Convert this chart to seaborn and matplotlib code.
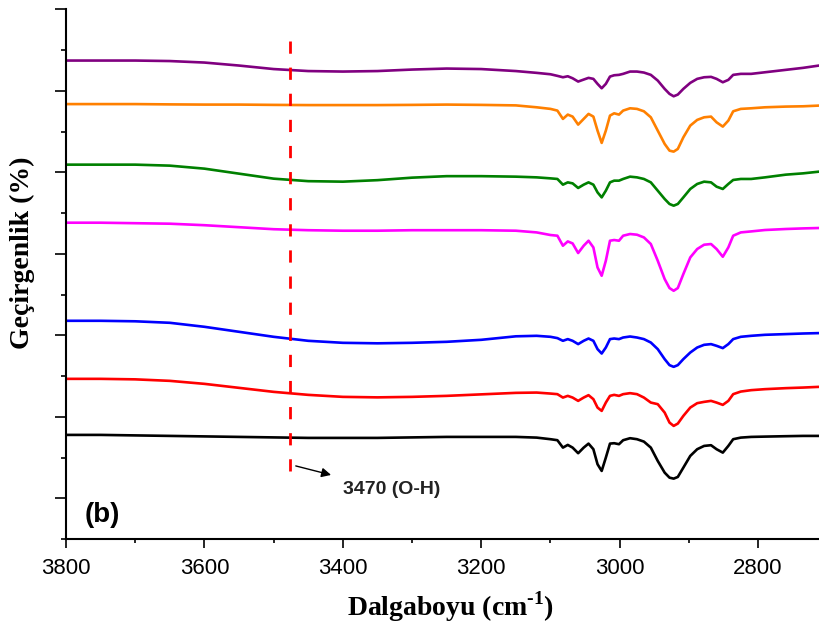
import numpy as np
import pandas as pd
import matplotlib
matplotlib.use("Agg")
import matplotlib.pyplot as plt
import seaborn as sns

# wavenumbers (cm-1)
wavenumber = [3800, 3750, 3700, 3650, 3600, 3550, 3500, 3450, 3400, 3350, 3300, 3250, 3200, 3150,
              3120, 3100, 3090, 3082, 3075, 3068, 3060, 3052, 3045, 3038, 3032, 3026, 3020, 3014,
              3008, 3001, 2995, 2985, 2975, 2965, 2955, 2945, 2935, 2928, 2922, 2916, 2908, 2898,
              2888, 2878, 2868, 2860, 2851, 2843, 2836, 2825, 2810, 2790, 2760, 2735, 2712]

# transmittance (arbitrary, vertically offset)
purple = [478, 478, 478, 477.5, 476, 473, 469.5, 467.5, 467, 467.5, 469, 470, 469.5, 467.5,
          465.7, 464.3, 462.7, 461.3, 462.3, 460.3, 457, 459, 460.7, 459.7, 454.7, 450.3, 454.7, 462,
          463.3, 463.7, 464.7, 467, 467, 466, 463.7, 458, 449.7, 444.7, 442.3, 444, 449.7, 455.7,
          459.7, 461.3, 461.7, 459.7, 456.3, 458.7, 463.7, 464.7, 464.7, 466.3, 468.7, 470.7, 473]
orange = [434.5, 434.5, 434.5, 434.2, 434, 434, 433.7, 433.5, 433.5, 433.5, 433.7, 434, 433.7, 433.2,
          431.3, 429.7, 428, 419.7, 424, 422, 414, 419.7, 424.7, 422, 408, 395.7, 408, 423,
          425.3, 424, 428, 430.3, 429.7, 427.3, 421.3, 408, 394.7, 388, 387, 389.7, 401.3, 413,
          418.7, 421.3, 422, 416.3, 412, 418, 427.3, 429.7, 430.3, 431.3, 432, 432.3, 433]
green = [374, 374, 374, 373, 370, 365, 360, 357.5, 357, 358.5, 361, 362.5, 362.5, 362,
         361.3, 360.3, 359.7, 354, 356.3, 355.3, 350.7, 354, 356.3, 354, 346.3, 341.3, 348, 356.3,
         358, 358, 359.7, 362, 361.3, 359.7, 356.3, 348, 339.7, 334.7, 333, 334.7, 341.3, 349.7,
         354.7, 357, 356.3, 352, 349.7, 354.7, 358.7, 359.7, 359.7, 361.3, 364, 365.3, 367]
magenta = [316, 316, 315.5, 315, 313.5, 311.5, 309.5, 308.5, 308, 308, 308.5, 308.5, 308.5, 308,
           306.3, 303.7, 303, 293, 297.3, 295.3, 285.7, 293, 298, 291.3, 271.3, 263, 278, 298,
           298.7, 298, 303, 304.7, 304, 301.3, 294.7, 278, 259.7, 250.7, 248, 250.7, 264.7, 281.3,
           289.7, 294, 294.7, 289.7, 282, 291.3, 303, 306.3, 307.3, 308.7, 309.7, 310.3, 310.7]
blue = [218, 218, 217.5, 216, 212, 207, 202, 198, 196, 195.5, 196, 197, 199, 202.5,
        203, 202, 200.7, 198, 199.7, 198, 194.7, 198, 200.3, 198, 189.7, 185.3, 191.3, 199.7,
        200.3, 199.7, 201.3, 202.3, 201.3, 199.7, 196.3, 189.7, 179.7, 173.7, 172, 173.7, 179.7, 186.3,
        191.3, 194, 194.7, 193, 190.7, 194.7, 199.7, 202, 203, 204, 204.7, 205.3, 205.7]
red = [160, 160, 159.5, 158, 155, 151, 147, 144, 142, 141.5, 142, 143, 144.5, 146,
       146.3, 145.3, 144.7, 141.3, 143, 141.3, 138, 141.3, 143.7, 139.7, 131.3, 128, 136.3, 143,
       144, 143, 144.7, 145.7, 144.7, 141.3, 136.3, 134.7, 126.3, 116.3, 113, 115.3, 123, 131.3,
       135.7, 137, 138, 136.3, 134, 138, 144.7, 147.3, 148.7, 149.7, 150.7, 151.3, 152]
black = [104, 104, 103.5, 103, 102.5, 102, 101.5, 101, 101, 101, 101.5, 102, 102, 102,
         101.3, 99.7, 98.7, 91.3, 94, 91.3, 85.7, 91.3, 95.3, 89.7, 74.7, 68, 81.3, 95.3,
         95.7, 94.7, 98.7, 100.7, 99.7, 97.3, 91.3, 78, 66.3, 61.3, 60.3, 62, 71.3, 83,
         89.7, 93, 93.7, 89.7, 86.3, 93, 99.7, 101.3, 102, 102.3, 102.7, 103, 103]

series_names = ["purple", "orange", "green", "magenta", "blue", "red", "black"]
series_values = [purple, orange, green, magenta, blue, red, black]
series_colors = ["#800080", "#FF8000", "#008000", "#FF00FF", "#0000FF", "#FF0000", "#000000"]

oh_position = 3476
oh_label = "3470 (O-H)"
panel_label = "(b)"

rows = []
for name, vals in zip(series_names, series_values):
    for w, v in zip(wavenumber, vals):
        rows.append({"w": w, "T": v, "s": name})
df = pd.DataFrame(rows)

sns.set_theme(style="white")
plt.rcParams["font.family"] = ["Liberation Sans", "DejaVu Sans"]
plt.rcParams["mathtext.fontset"] = "custom"
plt.rcParams["mathtext.rm"] = "Liberation Serif:bold"
plt.rcParams["mathtext.bf"] = "Liberation Serif:bold"
plt.rcParams["text.color"] = "black"
plt.rcParams["axes.labelcolor"] = "black"
plt.rcParams["xtick.color"] = "black"
plt.rcParams["ytick.color"] = "black"
plt.rcParams["lines.solid_joinstyle"] = "round"
plt.rcParams["lines.solid_capstyle"] = "round"

fig = plt.figure(figsize=(8.19, 6.31), dpi=100)
ax = fig.add_axes([66 / 819, 1 - 539 / 631, 753 / 819, 530 / 631])

sns.lineplot(data=df, x="w", y="T", hue="s", palette=dict(zip(series_names, series_colors)),
             estimator=None, sort=False, lw=1.9, legend=False, ax=ax)

ax.set_xlim(3800, 2712)
ax.set_ylim(0, 529.5)

# dashed O-H marker line
ax.plot([oh_position, oh_position], [498, 68], color="#FF0000", lw=2.0,
        dashes=(4.4, 5.0), dash_capstyle="butt")
ax.annotate("", xy=(3417, 64), xytext=(3468, 73),
            arrowprops=dict(arrowstyle="-|>", color="black", lw=1.0,
                            mutation_scale=14, shrinkA=0, shrinkB=0))
ax.text(3400, 49, oh_label, fontsize=14, fontweight="bold", ha="left", va="center",
        color="#222222", family=["Liberation Sans", "DejaVu Sans"])
ax.text(3773, 24, panel_label, fontsize=20, fontweight="bold", ha="left", va="center",
        color="black", family=["Liberation Sans", "DejaVu Sans"])

# axes styling
for side in ["top", "right"]:
    ax.spines[side].set_visible(False)
for side in ["left", "bottom"]:
    ax.spines[side].set_color("black")
    ax.spines[side].set_linewidth(1.5)

ax.set_xticks(np.arange(3800, 2700, -200))
ax.set_xticks(np.arange(3700, 2700, -200), minor=True)
ax.set_yticks(np.arange(40.7, 530, 81.4))
ax.set_yticks(np.arange(0, 490, 81.4), minor=True)
ax.set_yticklabels([])
ax.tick_params(axis="x", which="major", direction="out", length=6.5, width=1.2,
               labelsize=16, pad=7, colors="black", bottom=True)
ax.tick_params(axis="x", which="minor", direction="out", length=3.2, width=1.2,
               colors="black", bottom=True)
ax.tick_params(axis="y", which="major", direction="out", length=8, width=1.2,
               colors="black", left=True)
ax.tick_params(axis="y", which="minor", direction="out", length=3.6, width=1.2,
               colors="black", left=True)

ax.set_xlabel(r"Dalgaboyu (cm$^{\text{-1}}$)", fontsize=20, fontweight="bold",
              family=["Liberation Serif", "DejaVu Serif"])
ax.xaxis.set_label_coords(0.51, -0.128)
ax.xaxis.label.set_va("center")
ax.set_ylabel("Geçirgenlik (%)", fontsize=20, fontweight="bold",
              family=["Liberation Serif", "DejaVu Serif"])
ax.yaxis.set_label_coords(-0.058, 0.54)
ax.yaxis.label.set_va("center")

fig.savefig("out.png", dpi=100)
